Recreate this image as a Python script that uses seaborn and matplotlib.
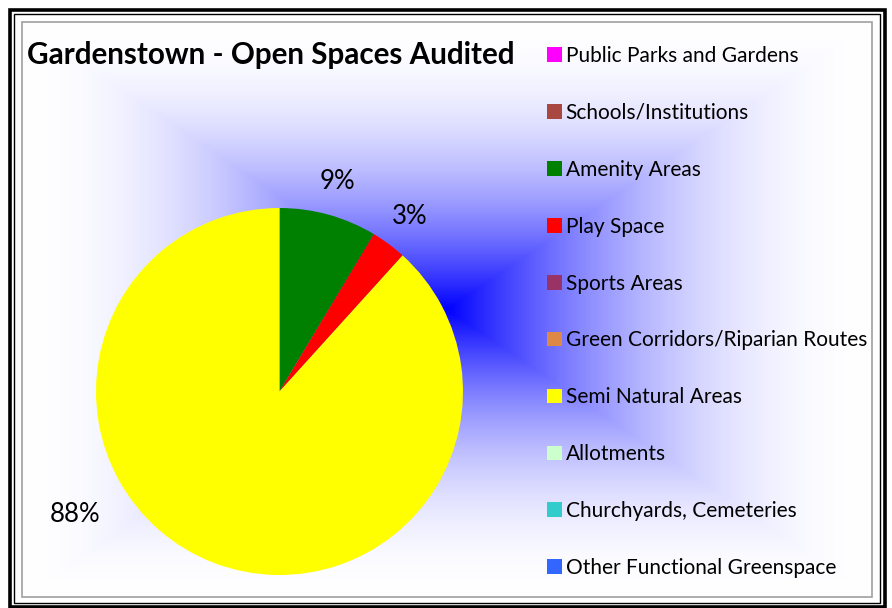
import matplotlib
matplotlib.use("Agg")
import matplotlib.pyplot as plt
import matplotlib.patches as mpatches
import numpy as np
import seaborn as sns

# data (share of audited open space, %)
categories = [
    "Public Parks and Gardens",
    "Schools/Institutions",
    "Amenity Areas",
    "Play Space",
    "Sports Areas",
    "Green Corridors/Riparian Routes",
    "Semi Natural Areas",
    "Allotments",
    "Churchyards, Cemeteries",
    "Other Functional Greenspace",
]
shares = [0.0, 0.0, 8.6, 3.1, 0.0, 0.0, 88.3, 0.0, 0.0, 0.0]
colors = [
    "#FF00FF", "#A94840", "#008000", "#FF0000", "#993366",
    "#DD8844", "#FFFF00", "#CCFFCC", "#33CCCC", "#3366FF",
]

sns.set_theme(style="white")
plt.rcParams["font.family"] = ["Lato", "DejaVu Sans"]
plt.rcParams["text.color"] = "black"

W, H = 892, 608
fig = plt.figure(figsize=(W / 100, H / 100), dpi=100)
fig.patch.set_facecolor("white")


def fbox(x0, y0, x1, y1):
    # pixel box (top-left origin) -> figure fraction rect
    return [x0 / W, 1 - y1 / H, (x1 - x0) / W, (y1 - y0) / H]


# chart area background: rectangular "from centre" blue gradient
bg = fig.add_axes(fbox(22, 22, 872, 597), zorder=0)
gx = np.linspace(-1, 1, 850)
gy = np.linspace(-1, 1, 575)
uu, vv = np.meshgrid(np.abs(gx), np.abs(gy))
f = np.maximum(uu, vv)
w = 1 - (1 - f) ** 2
img = np.dstack([w, w, np.ones_like(w)])
bg.imshow(img, aspect="auto", interpolation="bilinear")
bg.set_axis_off()

# frames
fig.patches.append(mpatches.Rectangle((9.5 / W, 1 - 606.5 / H), 875 / W, 597 / H,
                                      transform=fig.transFigure, fill=False,
                                      edgecolor="black", linewidth=2.6, zorder=5))
fig.patches.append(mpatches.Rectangle((13.5 / W, 1 - 602.5 / H), 866 / W, 588.5 / H,
                                      transform=fig.transFigure, fill=False,
                                      edgecolor="black", linewidth=1.0, zorder=5))
fig.patches.append(mpatches.Rectangle((22 / W, 1 - 597 / H), 850 / W, 575 / H,
                                      transform=fig.transFigure, fill=False,
                                      edgecolor="#A0A0A0", linewidth=1.2, zorder=5))

# pie
ax = fig.add_axes(fbox(96, 208, 463, 575), zorder=2)
ax.set_facecolor("none")
wedges, _ = ax.pie(shares, colors=colors, startangle=90, counterclock=False,
                   radius=1.0, wedgeprops={"linewidth": 0})
ax.set_xlim(-1, 1)
ax.set_ylim(-1, 1)
ax.set_aspect("equal")
ax.set_axis_off()

# percentage labels, placed outside the slices
label_dist = {2: 1.19, 3: 1.19, 6: 1.30}
label_angle_shift = {6: -38}
total = sum(shares)
cum = 0.0
for i, s in enumerate(shares):
    if s > 0:
        mid = 90 - 360 * (cum + s / 2) / total + label_angle_shift.get(i, 0)
        d = label_dist.get(i, 1.2)
        ax.text(d * np.cos(np.radians(mid)), d * np.sin(np.radians(mid)),
                "{:.0f}%".format(s), ha="center", va="center",
                fontsize=18.5, color="black", clip_on=False)
    cum += s

# title
fig.text(27 / W, 1 - 55 / H, "Gardenstown - Open Spaces Audited",
         fontsize=21.3, fontweight="bold", color="black", ha="left", va="center")

# legend
handles = [mpatches.Patch(facecolor=c, edgecolor="none") for c in colors]
leg = fig.legend(handles, categories, loc="upper left",
                 bbox_to_anchor=(547 / W, 1 - 46 / H), frameon=False,
                 fontsize=15, labelspacing=1.77, handlelength=0.7, handleheight=0.7,
                 handletextpad=0.2, borderpad=0, borderaxespad=0)
for t in leg.get_texts():
    t.set_color("black")

fig.savefig("out.png", dpi=100)
